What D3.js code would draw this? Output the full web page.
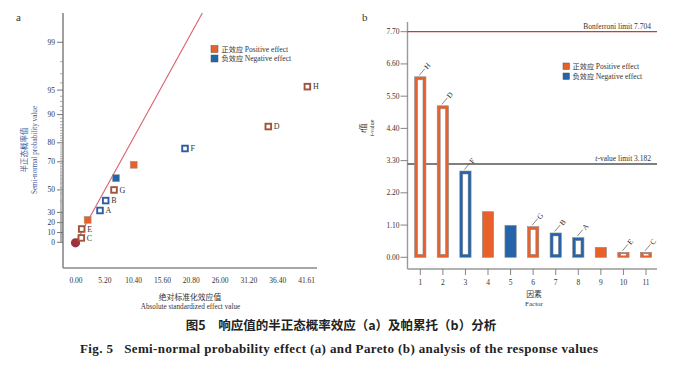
<!DOCTYPE html>
<html><head><meta charset="utf-8">
<script src="https://cdn.jsdelivr.net/npm/d3@7/dist/d3.min.js"></script>
<style>
html,body{margin:0;padding:0;background:#fff;}
svg{display:block;}
.serif{font-family:"Liberation Serif","DejaVu Serif",serif;}
.cjk{font-family:"Noto Sans CJK SC",sans-serif;}
</style></head>
<body>
<svg id="chart" width="673" height="365"></svg>
<script>
// ---------- Data: (a) half-normal plot ----------
const hnLabels  = ["C","E","","A","B","G","","","F","D","H"];
const hnEffect  = [0.96,1.03,2.1,4.33,5.36,6.86,7.22,10.41,19.67,34.7,41.75];
const hnProb    = [4.5,13.6,22.7,31.8,40.9,50.0,59.1,68.2,77.3,86.4,95.5];
const hnSign    = ["pos","pos","pos","neg","neg","pos","neg","pos","neg","pos","pos"];
const hnHollow  = [true,true,false,true,true,true,false,false,true,true,true];
const hnXTicks  = [0,5.20,10.40,15.60,20.80,26.00,31.20,36.40,41.61];
const hnYTicks  = [0,10,20,30,50,70,80,90,95,99];
const hnLineSlope = 7.72; // effect per unit half-normal quantile (reference line)

// ---------- Data: (b) Pareto ----------
const parFactors = [1,2,3,4,5,6,7,8,9,10,11];
const parValues  = [6.16,5.17,2.945,1.556,1.09,1.045,0.83,0.67,0.34,0.17,0.17];
const parLabels  = ["H","D","F","","","G","B","A","","E","C"];
const parSign    = ["pos","pos","neg","pos","neg","pos","neg","neg","pos","pos","pos"];
const parHollow  = [true,true,true,false,false,true,true,true,false,true,true];
const parYTicks  = [0,1.10,2.20,3.30,4.40,5.50,6.60,7.70];
const bonferroni = 7.704;
const tLimit     = 3.182;

const ORANGE="#e8602a", BLUE="#2563aa", BROWN="#a0553a", NBLUE="#2d5da0";
const svg = d3.select("#chart");

// inverse normal CDF (Acklam)
function normInv(p){
  const a=[-3.969683028665376e+01,2.209460984245205e+02,-2.759285104469687e+02,1.383577518672690e+02,-3.066479806614716e+01,2.506628277459239e+00];
  const b=[-5.447609879822406e+01,1.615858368580409e+02,-1.556989798598866e+02,6.680131188771972e+01,-1.328068155288572e+01];
  const c=[-7.784894002430293e-03,-3.223964580411365e-01,-2.400758277161838e+00,-2.549732539343734e+00,4.374664141464968e+00,2.938163982698783e+00];
  const d=[7.784695709041462e-03,3.224671290700398e-01,2.445134137142996e+00,3.754408661907416e+00];
  const pl=0.02425;
  if(p<pl){const q=Math.sqrt(-2*Math.log(p));return (((((c[0]*q+c[1])*q+c[2])*q+c[3])*q+c[4])*q+c[5])/((((d[0]*q+d[1])*q+d[2])*q+d[3])*q+1);}
  if(p>1-pl){const q=Math.sqrt(-2*Math.log(1-p));return -(((((c[0]*q+c[1])*q+c[2])*q+c[3])*q+c[4])*q+c[5])/((((d[0]*q+d[1])*q+d[2])*q+d[3])*q+1);}
  const q=p-0.5,r=q*q;
  return (((((a[0]*r+a[1])*r+a[2])*r+a[3])*r+a[4])*r+a[5])*q/(((((b[0]*r+b[1])*r+b[2])*r+b[3])*r+b[4])*r+1);
}
const halfZ = pct => pct<=0 ? 0 : normInv(0.5+pct/200);

// ================= Panel a =================
const ax = d3.scaleLinear().domain([0,41.61]).range([76,306.6]);
const zs = d3.scaleLinear().domain([0,halfZ(99)]).range([242.3,42.3]);
const ay = pct => zs(halfZ(pct));
const aLeft=63, aRight=317, aTop=13, aBottom=268;

const ga = svg.append("g");
ga.append("text").attr("class","serif").attr("x",16).attr("y",21).attr("font-size",11).attr("fill","#333").text("a");

// axes lines
ga.append("line").attr("x1",aLeft).attr("x2",aLeft).attr("y1",aTop).attr("y2",aBottom).attr("stroke","#777").attr("stroke-width",1.4);
ga.append("line").attr("x1",aLeft).attr("x2",aRight).attr("y1",aBottom).attr("y2",aBottom).attr("stroke","#888").attr("stroke-width",1.4);

// minor ticks every 1%
const minor = d3.range(1,100).filter(v=>!hnYTicks.includes(v));
ga.selectAll(".mt").data(minor).join("line")
  .attr("x1",aLeft-3).attr("x2",aLeft).attr("y1",d=>ay(d)).attr("y2",d=>ay(d))
  .attr("stroke","#888").attr("stroke-width",0.7);
ga.selectAll(".Mt").data(hnYTicks).join("line")
  .attr("x1",aLeft-6).attr("x2",aLeft).attr("y1",d=>ay(d)).attr("y2",d=>ay(d))
  .attr("stroke","#666").attr("stroke-width",0.9);
ga.selectAll(".yl").data(hnYTicks).join("text").attr("class","serif")
  .attr("x",aLeft-8).attr("y",d=>ay(d)).attr("dy","0.34em").attr("text-anchor","end")
  .attr("font-size",7.5).attr("fill","#333").text(d=>d);
ga.selectAll(".xl").data(hnXTicks).join("text").attr("class","serif")
  .attr("x",d=>ax(d)).attr("y",282.5).attr("text-anchor","middle")
  .attr("font-size",7.5).attr("fill","#333").text(d=>d.toFixed(2));

// titles
ga.append("text").attr("class","cjk").attr("transform","translate(27,150) rotate(-90)")
  .attr("text-anchor","middle").attr("font-size",7.5).attr("fill","#3a5a9c").text("半正态概率值");
ga.append("text").attr("class","serif").attr("transform","translate(37,150) rotate(-90)")
  .attr("text-anchor","middle").attr("font-size",7.2).attr("fill","#3a5a9c").text("Semi-normal probability value");
ga.append("text").attr("class","cjk").attr("x",190).attr("y",299.5)
  .attr("text-anchor","middle").attr("font-size",7.8).attr("fill","#333").text("绝对标准化效应值");
ga.append("text").attr("class","serif").attr("x",190.5).attr("y",308.5)
  .attr("text-anchor","middle").attr("font-size",7.2).attr("fill","#333").text("Absolute standardized effect value");

// reference line
const zTop = zs.invert(aTop);
ga.append("line").attr("x1",ax(0)).attr("y1",zs(0)).attr("x2",ax(zTop*hnLineSlope)).attr("y2",zs(zTop))
  .attr("stroke","#d9606a").attr("stroke-width",1.1);

// origin point
ga.append("circle").attr("cx",ax(0)-0.5).attr("cy",zs(0)+0.5).attr("r",4.6).attr("fill","#9e3040");

// markers
hnEffect.forEach((v,i)=>{
  const cx=ax(v), cy=ay(hnProb[i]);
  if(hnHollow[i]){
    ga.append("rect").attr("x",cx-2.8).attr("y",cy-2.8).attr("width",5.6).attr("height",5.6)
      .attr("fill","#fff").attr("stroke",hnSign[i]==="pos"?BROWN:NBLUE).attr("stroke-width",1.9);
  } else {
    ga.append("rect").attr("x",cx-3.5).attr("y",cy-3.5).attr("width",7).attr("height",7)
      .attr("fill",hnSign[i]==="pos"?ORANGE:BLUE).attr("stroke","#999").attr("stroke-width",0.5);
  }
  if(hnLabels[i]) ga.append("text").attr("class","serif").attr("x",cx+5.5).attr("y",cy).attr("dy","0.35em")
    .attr("font-size",8).attr("fill","#333").text(hnLabels[i]);
});

// legend a
[["正效应 ","Positive effect",ORANGE],["负效应 ","Negative effect",BLUE]].forEach((d,i)=>{
  const y=45.5+i*9.5;
  ga.append("rect").attr("x",211).attr("y",y).attr("width",7).attr("height",7).attr("fill",d[2]).attr("stroke","#555").attr("stroke-width",0.5);
  const t=ga.append("text").attr("x",221.5).attr("y",y+6).attr("font-size",7.2).attr("fill","#333");
  t.append("tspan").attr("class","cjk").text(d[0]);
  t.append("tspan").attr("class","serif").attr("font-size",7.6).text(d[1]);
});

// ================= Panel b =================
const bLeft=407.5, bRight=657, bTop=22, bBottom=269;
const bx = d3.scaleLinear().domain([1,11]).range([420.3,646]);
const by = d3.scaleLinear().domain([0,7.70]).range([257.3,31.7]);
const gb = svg.append("g");
gb.append("text").attr("class","serif").attr("x",362).attr("y",21).attr("font-size",11).attr("fill","#333").text("b");

gb.append("line").attr("x1",bLeft).attr("x2",bLeft).attr("y1",bTop).attr("y2",bBottom).attr("stroke","#999").attr("stroke-width",1.4);
gb.append("line").attr("x1",bLeft).attr("x2",bRight).attr("y1",bBottom).attr("y2",bBottom).attr("stroke","#999").attr("stroke-width",1.4);

gb.selectAll(".yt").data(parYTicks).join("line")
  .attr("x1",bLeft-7).attr("x2",bLeft).attr("y1",d=>by(d)).attr("y2",d=>by(d)).attr("stroke","#777").attr("stroke-width",0.9);
gb.selectAll(".yl").data(parYTicks).join("text").attr("class","serif")
  .attr("x",bLeft-8).attr("y",d=>by(d)).attr("dy","0.34em").attr("text-anchor","end")
  .attr("font-size",7.5).attr("fill","#333").text(d=>d.toFixed(2));
gb.selectAll(".xt").data(parFactors).join("line")
  .attr("x1",d=>bx(d)).attr("x2",d=>bx(d)).attr("y1",bBottom).attr("y2",bBottom+6).attr("stroke","#777").attr("stroke-width",0.9);
gb.selectAll(".xl").data(parFactors).join("text").attr("class","serif")
  .attr("x",d=>bx(d)).attr("y",284.5).attr("text-anchor","middle")
  .attr("font-size",7.5).attr("fill","#333").text(d=>d);

gb.append("text").attr("class","cjk").attr("x",534).attr("y",296.5).attr("text-anchor","middle")
  .attr("font-size",7.8).attr("fill","#333").text("因素");
gb.append("text").attr("class","serif").attr("x",534).attr("y",306).attr("text-anchor","middle")
  .attr("font-size",7).attr("fill","#333").text("Factor");
gb.append("text").attr("transform","translate(366,128) rotate(-90)").attr("text-anchor","middle")
  .attr("font-size",7.5).attr("fill","#333")
  .call(t=>{t.append("tspan").attr("class","serif").attr("font-style","italic").text("t");t.append("tspan").attr("class","cjk").text("值");});
gb.append("text").attr("transform","translate(373.5,128) rotate(-90)").attr("text-anchor","middle")
  .attr("font-size",6).attr("fill","#333")
  .call(t=>{t.append("tspan").attr("class","serif").attr("font-style","italic").text("t");t.append("tspan").attr("class","serif").text("-value");});

// limit lines
gb.append("line").attr("x1",bLeft).attr("x2",bRight).attr("y1",by(bonferroni)).attr("y2",by(bonferroni)).attr("stroke","#d8343c").attr("stroke-width",1.1);
gb.append("text").attr("class","serif").attr("x",651).attr("y",by(bonferroni)-2.5).attr("text-anchor","end")
  .attr("font-size",7.5).attr("fill","#333").text("Bonferroni limit 7.704");
gb.append("line").attr("x1",bLeft).attr("x2",bRight).attr("y1",by(tLimit)).attr("y2",by(tLimit)).attr("stroke","#555").attr("stroke-width",1.5);
gb.append("text").attr("class","serif").attr("x",651).attr("y",by(tLimit)-3).attr("text-anchor","end")
  .attr("font-size",7.5).attr("fill","#333")
  .call(t=>{t.append("tspan").attr("font-style","italic").text("t");t.append("tspan").text("-value limit 3.182");});

// bars
const bw=11.3;
parValues.forEach((v,i)=>{
  const cx=bx(parFactors[i]), top=by(v), base=by(0), h=base-top;
  const col = parSign[i]==="pos"?ORANGE:BLUE;
  gb.append("rect").attr("x",cx-bw/2).attr("y",top).attr("width",bw).attr("height",h)
    .attr("fill",col).attr("stroke","#8a8a8a").attr("stroke-width",0.6);
  if(parHollow[i]){
    const ix=3, iy=Math.min(3,h*0.3);
    gb.append("rect").attr("x",cx-bw/2+ix).attr("y",top+iy).attr("width",bw-2*ix).attr("height",h-2*iy)
      .attr("fill","#fff").attr("stroke","#888").attr("stroke-width",0.5);
  }
  if(parLabels[i]){
    gb.append("line").attr("x1",cx-1).attr("y1",top-1.5).attr("x2",cx+4.5).attr("y2",top-8)
      .attr("stroke","#555").attr("stroke-width",0.7);
    gb.append("text").attr("class","serif").attr("transform",`translate(${cx+5.5},${top-8.5}) rotate(-50)`)
      .attr("font-size",7.5).attr("fill","#333").attr("dy","0.3em").text(parLabels[i]);
  }
});

// legend b
[["正效应 ","Positive effect",ORANGE],["负效应 ","Negative effect",BLUE]].forEach((d,i)=>{
  const y=63+i*10;
  gb.append("rect").attr("x",563).attr("y",y).attr("width",6.5).attr("height",6.5).attr("fill",d[2]).attr("stroke","#555").attr("stroke-width",0.5);
  const t=gb.append("text").attr("x",572.5).attr("y",y+6).attr("font-size",7.2).attr("fill","#333");
  t.append("tspan").attr("class","cjk").text(d[0]);
  t.append("tspan").attr("class","serif").attr("font-size",7.6).text(d[1]);
});

// ================= Caption =================
svg.append("text").attr("class","cjk").attr("x",341).attr("y",330).attr("text-anchor","middle")
  .attr("font-size",12.5).attr("font-weight","bold").attr("fill","#222")
  .text("图5　响应值的半正态概率效应（a）及帕累托（b）分析");
svg.append("text").attr("class","serif").attr("x",80).attr("y",352.5)
  .attr("font-size",13).attr("font-weight","bold").attr("fill","#222")
  .attr("textLength",518).attr("lengthAdjust","spacing")
  .attr("xml:space","preserve")
  .text("Fig. 5   Semi-normal probability effect (a) and Pareto (b) analysis of the response values");
</script>
</body></html>
